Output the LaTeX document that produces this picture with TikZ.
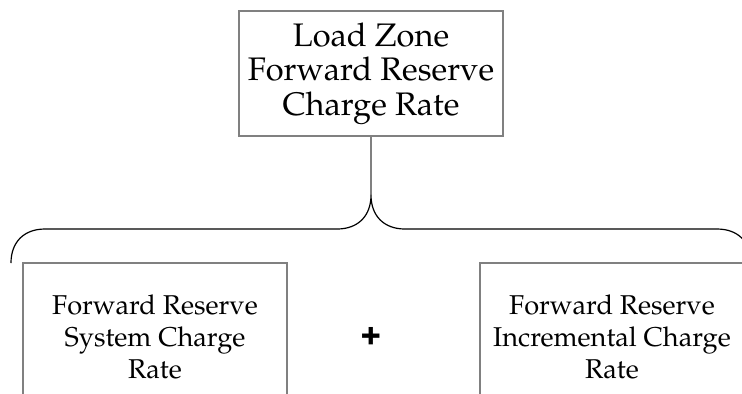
\documentclass[tikz,border=0pt]{standalone}
\usepackage[T1]{fontenc}
\usepackage{mathpazo}
\usepackage{helvet}
\definecolor{boxgray}{RGB}{128,128,128}
\begin{document}
\begin{tikzpicture}[x=0.5pt,y=-0.5pt,
        ratebox/.style={draw=boxgray,line width=1pt,align=center,inner sep=0pt,minimum width=132pt},
        bracelink/.style={black,line width=0.6pt}]
    \useasboundingbox (0,0) rectangle (742,393);
    \clip (0,0) rectangle (742,393);
    \node[ratebox,minimum height=62.5pt,font=\fontsize{16.3}{17.3}\selectfont] (zone) at (371,73.5) {Load Zone\\Forward Reserve\\Charge Rate};
    \node[ratebox,minimum height=74pt,font=\fontsize{13.6}{16}\selectfont] (system) at (155,337) {Forward Reserve\\System Charge\\Rate};
    \node[ratebox,minimum height=74pt,font=\fontsize{13.6}{16}\selectfont] (incr) at (612,337) {Forward Reserve\\Incremental Charge\\Rate};
    \node[font=\sffamily\bfseries\fontsize{18}{18}\selectfont] (plus) at (371,335) {+};
    \coordinate (cusp) at (371,195);
    \draw[draw=boxgray,line width=1pt] (zone.south) -- (cusp);
    \draw[bracelink] (11,263) .. controls (11,242) and (24,229) .. (45,229) -- (337,229)
        .. controls (358,229) and (371,216) .. (cusp)
        .. controls (371,216) and (384,229) .. (405,229) -- (717,229)
        .. controls (738,229) and (751,242) .. (751,263);
\end{tikzpicture}
\end{document}
